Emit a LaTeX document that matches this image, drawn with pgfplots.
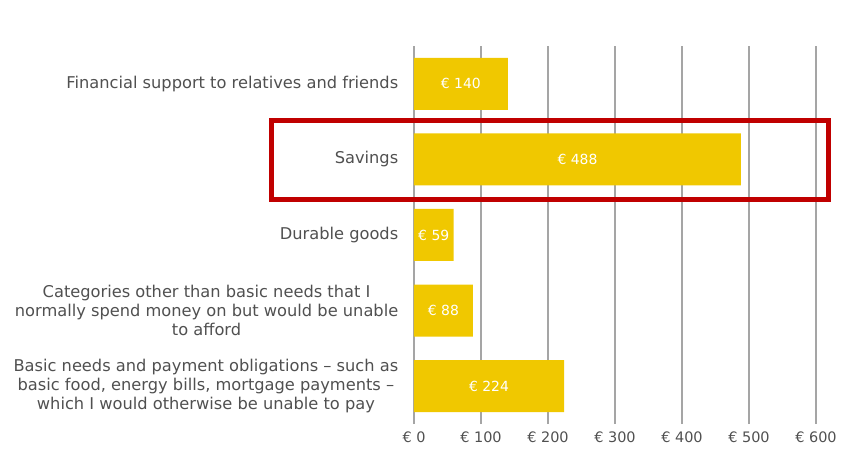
\documentclass[border=0pt]{standalone}
\usepackage{fontspec}
\setmainfont{DejaVu Sans}
\usepackage{pgfplots}
\pgfplotsset{compat=1.18}
\definecolor{barY}{RGB}{240,200,0}
\definecolor{gridG}{RGB}{165,165,165}
\definecolor{txtG}{RGB}{80,80,80}
\definecolor{boxR}{RGB}{192,0,0}
\begin{document}
\begin{tikzpicture}
\begin{axis}[
  scale only axis,
  width=402bp, height=378bp,
  xmin=0, xmax=600, ymin=-0.5, ymax=4.5,
  xbar, bar width=52bp,
  xtick={0,100,200,300,400,500,600},
  xticklabels={€ 0,€ 100,€ 200,€ 300,€ 400,€ 500,€ 600},
  ytick={0,1,2,3,4},
  yticklabels={{Basic needs and payment obligations – such as\\basic food, energy bills, mortgage payments –\\which I would otherwise be unable to pay},
               {Categories other than basic needs that I\\normally spend money on but would be unable\\to afford},
               {Durable goods},
               {Savings},
               {Financial support to relatives and friends}},
  yticklabel style={align=center, font=\fontsize{16.3}{19}\selectfont, text=txtG, xshift=-8bp},
  xticklabel style={font=\fontsize{14.5}{17}\selectfont, text=txtG, yshift=-4bp},
  axis line style={draw=none},
  major tick style={draw=none},
  xmajorgrids, grid style={gridG, line width=1.2bp},
  clip=false,
  /pgf/number format/assume math mode=true,
  visualization depends on=rawx \as \rawx,
  nodes near coords={€ \pgfmathprintnumber{\rawx}},
  every node near coord/.append style={anchor=center, text=white, font=\fontsize{14}{17}\selectfont, shift={(axis direction cs:-\rawx/2,0)}},
]
\addplot[fill=barY, draw=none] coordinates {(224,0) (88,1) (59,2) (488,3) (140,4)};
\draw[boxR, line width=5bp] (axis cs:-212,2.47) rectangle (axis cs:618,3.51);
\end{axis}
\pgfresetboundingbox
\path[use as bounding box] (-414bp,-34bp) rectangle (429bp,424bp);
\end{tikzpicture}
\end{document}
